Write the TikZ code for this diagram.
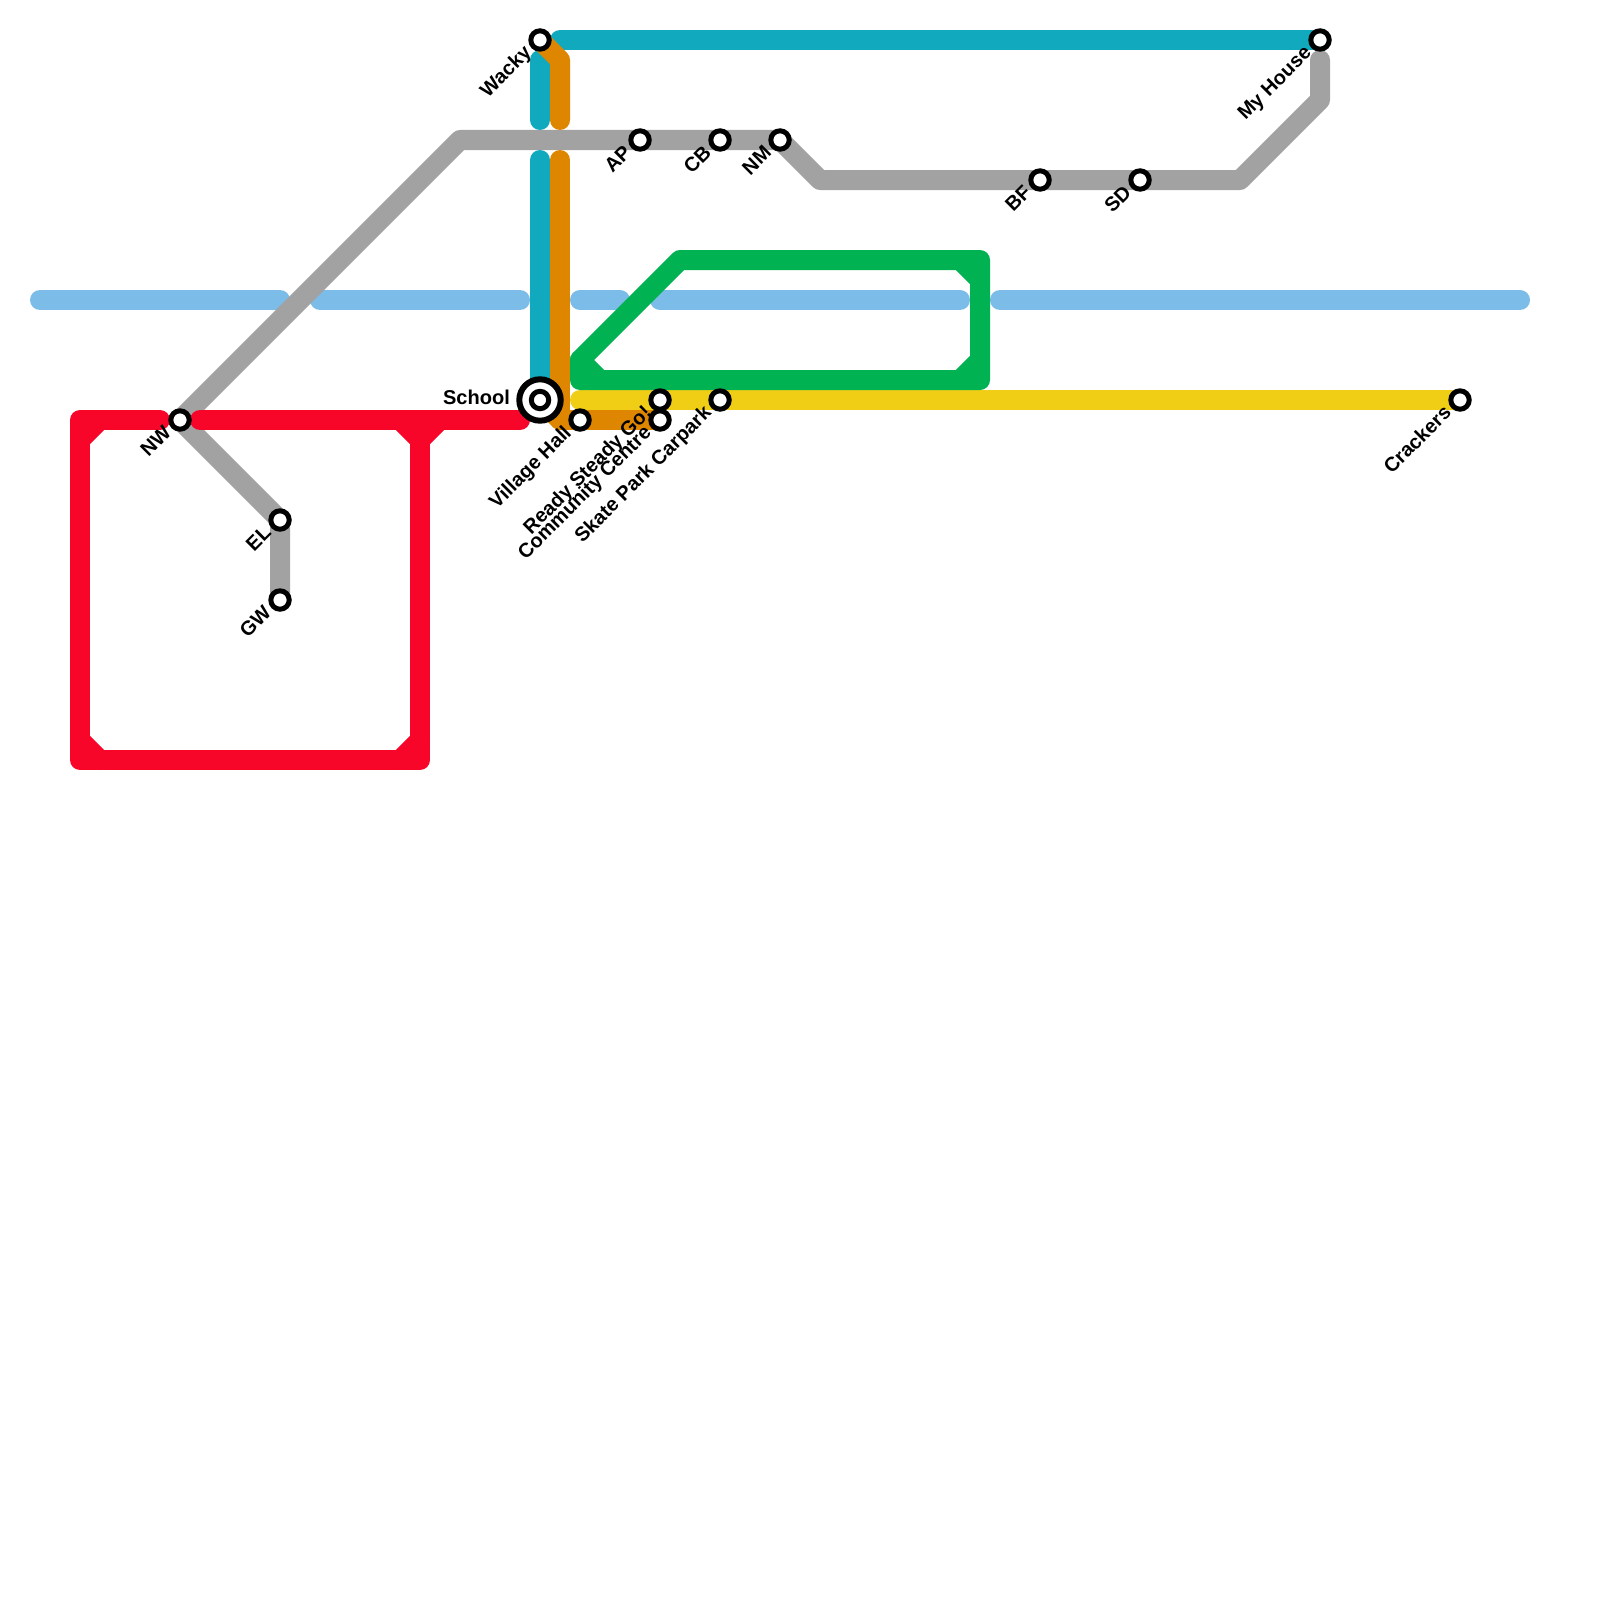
\documentclass[tikz,border=0pt]{standalone}
\usepackage{fontspec}
\setmainfont{Liberation Sans}
\pgfdeclarelayer{lines}
\pgfsetlayers{lines,main}
\definecolor{cblue}{HTML}{7BBCE9}
\definecolor{ccyan}{HTML}{10A9BE}
\definecolor{corange}{HTML}{DF8600}
\definecolor{cgray}{HTML}{A2A2A2}
\definecolor{cred}{HTML}{F8052A}
\definecolor{cgreen}{HTML}{00B251}
\definecolor{cyellow}{HTML}{F0CE15}
\tikzset{
  x=1pt,y=-1pt,
  route/.style={line width=20pt,line cap=round,line join=round},
  station/.style={circle,draw=black,fill=white,line width=5pt,minimum size=18.4pt,inner sep=0pt,outer sep=0pt},
  hub/.style={circle,draw=black,fill=white,line width=6pt,minimum size=41.4pt,inner sep=0pt,outer sep=0pt},
  hubcore/.style={circle,draw=black,fill=white,line width=5pt,minimum size=17.4pt,inner sep=0pt,outer sep=0pt},
  lab/.style={font=\bfseries\fontsize{20}{24}\selectfont,rotate=45,anchor=east,inner sep=0pt,text height=14pt,text depth=0pt},
}
\begin{document}
\begin{tikzpicture}
\useasboundingbox (0,0) rectangle (1600,1600);
% stations
\node[hub] (School) at (540,400) {};
\node[hubcore] (SchoolC) at (540,400) {};
\node[station] (Wacky) at (540,40) {};
\node[station] (MyHouse) at (1320,40) {};
\node[station] (AP) at (640,140) {};
\node[station] (CB) at (720,140) {};
\node[station] (NM) at (780,140) {};
\node[station] (BF) at (1040,180) {};
\node[station] (SD) at (1140,180) {};
\node[station] (NW) at (180,420) {};
\node[station] (EL) at (280,520) {};
\node[station] (GW) at (280,600) {};
\node[station] (Village) at (580,420) {};
\node[station] (Ready) at (660,400) {};
\node[station] (Community) at (660,420) {};
\node[station] (Skate) at (720,400) {};
\node[station] (Crackers) at (1460,400) {};
% labels
\node[lab] (lWacky) at ([shift={(-12.5,9)}]Wacky.center) {Wacky};
\node[lab] (lMyHouse) at ([shift={(-12.5,9)}]MyHouse.center) {My House};
\node[lab] (lAP) at ([shift={(-12.5,9)}]AP.center) {AP};
\node[lab] (lCB) at ([shift={(-12.5,9)}]CB.center) {CB};
\node[lab] (lNM) at ([shift={(-12.5,9)}]NM.center) {NM};
\node[lab] (lBF) at ([shift={(-12.5,9)}]BF.center) {BF};
\node[lab] (lSD) at ([shift={(-12.5,9)}]SD.center) {SD};
\node[lab] (lNW) at ([shift={(-12.5,9)}]NW.center) {NW};
\node[lab] (lEL) at ([shift={(-12.5,9)}]EL.center) {EL};
\node[lab] (lGW) at ([shift={(-12.5,9)}]GW.center) {GW};
\node[lab] (lVillage) at ([shift={(-12.5,9)}]Village.center) {Village Hall};
\node[lab] (lReady) at ([shift={(-12.5,9)}]Ready.center) {Ready Steady Go!};
\node[lab] (lCommunity) at ([shift={(-12.5,9)}]Community.center) {Community Centre};
\node[lab] (lSkate) at ([shift={(-12.5,9)}]Skate.center) {Skate Park Carpark};
\node[lab] (lCrackers) at ([shift={(-12.5,9)}]Crackers.center) {Crackers};
\node[font=\bfseries\fontsize{20}{24}\selectfont,anchor=east,inner sep=0pt] (lSchool) at (510,397) {School};
% routes
\begin{pgfonlayer}{lines}
\fill[white] (0,0) rectangle (1600,1600);
\coordinate (b1a) at (40,300); \coordinate (b1b) at (280,300);
\coordinate (b2a) at (320,300); \coordinate (b2b) at (520,300);
\coordinate (b3a) at (580,300); \coordinate (b3b) at (620,300);
\coordinate (b4a) at (660,300); \coordinate (b4b) at (960,300);
\coordinate (b5a) at (1000,300); \coordinate (b5b) at (1520,300);
\draw[route,cblue] (b1a)--(b1b) (b2a)--(b2b) (b3a)--(b3b) (b4a)--(b4b) (b5a)--(b5b);
% gray
\coordinate (g1) at (460,140); \coordinate (g2) at (820,180);
\coordinate (g3) at (1240,180); \coordinate (g4) at (1320,100); \coordinate (g5) at (1320,60);
\draw[route,cgray] (NW.center)--(g1)--(NM.center)--(g2)--(g3)--(g4)--(g5);
\draw[route,cgray] (NW.center)--(EL.center)--(GW.center);
% cyan
\coordinate (c1) at (540,60); \coordinate (c2) at (540,120); \coordinate (c3) at (540,160);
\coordinate (c4) at (560,40);
\draw[route,ccyan] (c1)--(c2) (c3)--(School.center) (c4)--(MyHouse.center);
% orange
\coordinate (o1) at (560,60); \coordinate (o2) at (560,120); \coordinate (o3) at (560,160);
\coordinate (o4) at (560,420); \coordinate (o5) at (560,400);
\draw[route,corange] (Wacky.center)--(o1)--(o2);
\draw[route,corange] (o3)--(o5)--(o4)--(Community.center);
\draw[route,corange] (School.center)--(o4);
% yellow
\coordinate (y1) at (580,400);
\draw[route,cyellow] (y1)--(Crackers.center);
% green
\coordinate (e1) at (680,260); \coordinate (e2) at (580,360); \coordinate (e3) at (580,380);
\coordinate (e4) at (980,380); \coordinate (e5) at (980,260);
\coordinate (e6) at (600,380); \coordinate (e7) at (960,260); \coordinate (e8) at (980,280);
\coordinate (e9) at (960,380); \coordinate (e10) at (980,360);
\draw[route,cgreen] (e1)--(e2)--(e3)--(e4)--(e5)--cycle;
\draw[route,cgreen] (e2)--(e6) (e7)--(e8) (e9)--(e10);
% red
\coordinate (r1) at (160,420); \coordinate (r2) at (80,420); \coordinate (r3) at (80,760);
\coordinate (r4) at (420,760); \coordinate (r5) at (420,420); \coordinate (r6) at (200,420);
\coordinate (r7) at (520,420);
\coordinate (r8) at (80,440); \coordinate (r9) at (100,420);
\coordinate (r10) at (80,740); \coordinate (r11) at (100,760);
\coordinate (r12) at (400,760); \coordinate (r13) at (420,740);
\coordinate (r14) at (400,420); \coordinate (r15) at (420,440); \coordinate (r16) at (440,420);
\draw[route,cred] (r1)--(r2)--(r3)--(r4)--(r5);
\draw[route,cred] (r6)--(r7);
\draw[route,cred] (r8)--(r9) (r10)--(r11) (r12)--(r13) (r14)--(r15)--(r16);
\end{pgfonlayer}
\end{tikzpicture}
\end{document}
